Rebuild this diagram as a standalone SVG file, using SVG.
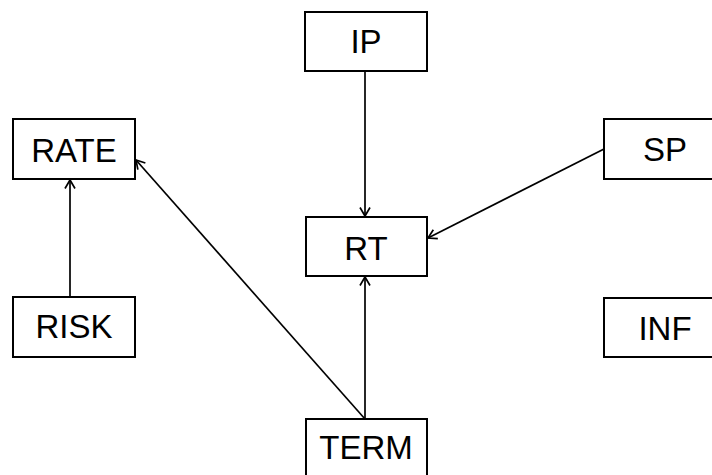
<svg xmlns="http://www.w3.org/2000/svg" width="712" height="475" viewBox="0 0 712 475">
  <style>
    .box { fill: #ffffff; stroke: #000000; stroke-width: 2; }
    .lbl { font-family: "Liberation Sans", Arial, sans-serif; font-size: 33px; fill: #000000; text-anchor: middle; }
    .edge { fill: none; stroke: #000000; stroke-width: 1.7; }
  </style>
  <defs>
    <marker id="arrow" markerUnits="userSpaceOnUse" markerWidth="14" markerHeight="14" viewBox="-10 -7 14 14" refX="0" refY="0" orient="auto">
      <path d="M-8.5,-5 L0,0 L-8.5,5" fill="none" stroke="#000000" stroke-width="1.7"/>
    </marker>
  </defs>
  <rect width="712" height="475" fill="#ffffff"/>

  <g id="edges">
    <line class="edge" x1="365" y1="71" x2="365" y2="216" marker-end="url(#arrow)"/>
    <line class="edge" x1="604" y1="149" x2="428" y2="238" marker-end="url(#arrow)"/>
    <line class="edge" x1="365" y1="419" x2="365" y2="277" marker-end="url(#arrow)"/>
    <line class="edge" x1="365" y1="419" x2="136" y2="160" marker-end="url(#arrow)"/>
    <line class="edge" x1="70" y1="297" x2="70" y2="180" marker-end="url(#arrow)"/>
  </g>

  <g id="IP">
    <rect class="box" x="305" y="12" width="122" height="59"/>
    <text class="lbl" x="366" y="53">IP</text>
  </g>
  <g id="RATE">
    <rect class="box" x="13" y="119" width="122" height="60"/>
    <text class="lbl" x="74" y="162">RATE</text>
  </g>
  <g id="SP">
    <rect class="box" x="604" y="119" width="122" height="60"/>
    <text class="lbl" x="665" y="161">SP</text>
  </g>
  <g id="RT">
    <rect class="box" x="306" y="217" width="121" height="59"/>
    <text class="lbl" x="366" y="260">RT</text>
  </g>
  <g id="RISK">
    <rect class="box" x="13" y="297" width="122" height="60"/>
    <text class="lbl" x="74" y="338">RISK</text>
  </g>
  <g id="INF">
    <rect class="box" x="604" y="298" width="122" height="59"/>
    <text class="lbl" x="665" y="340">INF</text>
  </g>
  <g id="TERM">
    <rect class="box" x="306" y="419" width="121" height="60"/>
    <text class="lbl" x="366" y="459">TERM</text>
  </g>
</svg>
